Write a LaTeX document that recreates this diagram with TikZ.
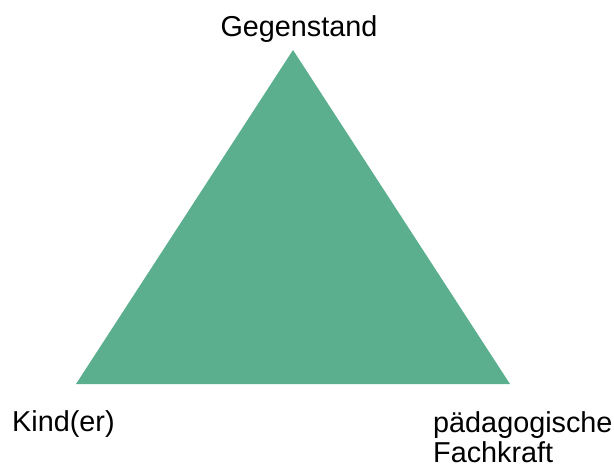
\documentclass[tikz,border=0pt]{standalone}
\usepackage{fontspec}
\setmainfont{Liberation Sans}
\definecolor{trigreen}{RGB}{91,175,143}
\begin{document}
\begin{tikzpicture}[x=1pt,y=-1pt,
  lbl/.style={inner sep=0pt, font=\fontsize{28.8}{32}\selectfont, text=black}]
\useasboundingbox (0,0) rectangle (614,466);
\coordinate (top) at (293,50);
\coordinate (left) at (76,384);
\coordinate (right) at (510,384);
\fill[trigreen] (top) -- (left) -- (right) -- cycle;
\node[lbl, anchor=base] (gegen) at (299,36) {Gegenstand};
\node[lbl, anchor=base west] (kind) at (12,431) {Kind(er)};
\node[lbl, anchor=base west] (paed) at (433,432) {pädagogische};
\node[lbl, anchor=base west, text depth=0pt] (fach) at (433,462) {Fachkraft};
\end{tikzpicture}
\end{document}
